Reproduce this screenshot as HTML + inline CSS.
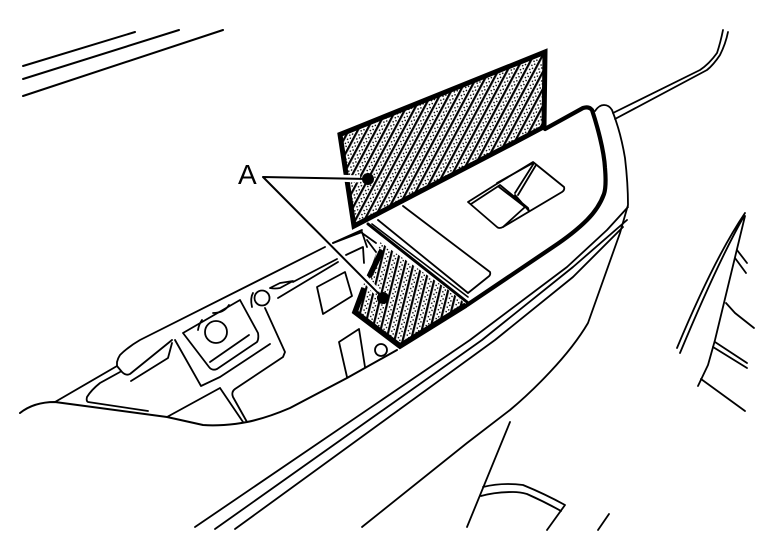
<!DOCTYPE html>
<html><head><meta charset="utf-8"><style>html,body{margin:0;padding:0;background:#fff;width:768px;height:544px;overflow:hidden}svg{display:block}</style></head>
<body>
<svg width="768" height="544" viewBox="0 0 768 544" xmlns="http://www.w3.org/2000/svg">
<defs>
<pattern id="h" width="8" height="4.6" patternUnits="userSpaceOnUse" patternTransform="rotate(28)">
<rect width="8" height="4.6" fill="#fff"/>
<rect x="0" width="2.2" height="4.6" fill="#000"/>
<rect x="3.6" y="0.5" width="1.4" height="1.4" fill="#000"/>
<rect x="5.6" y="2.8" width="1.4" height="1.4" fill="#000"/>
</pattern>
<pattern id="h2" width="8" height="4.6" patternUnits="userSpaceOnUse" patternTransform="rotate(14)">
<rect width="8" height="4.6" fill="#fff"/>
<rect x="0" width="2.2" height="4.6" fill="#000"/>
<rect x="3.6" y="0.5" width="1.4" height="1.4" fill="#000"/>
<rect x="5.6" y="2.8" width="1.4" height="1.4" fill="#000"/>
</pattern>
</defs>
<rect width="768" height="544" fill="#fff"/>
<g fill="none" stroke="#000" stroke-width="1.8" stroke-linejoin="round" stroke-linecap="round">
<!-- upper left -->
<path d="M23 66L135 32M23 79L179 30M23 96L223 30" stroke-width="2"/>
<!-- cable -->
<path d="M723 30C721 40 719 47 717 53C712 60 706 66 700 70L613 113M728 32C726 42 723 49 720 55C716 61 712 66 707 70L615 119"/>
<!-- hatch panels -->
<path d="M340 134.500L545 52L544 127L354 226Z" fill="url(#h)" stroke-width="5" stroke-linejoin="miter"/>
<path d="M380 242L467 303L400 348L353 313L363 285L368 276Z" fill="url(#h2)" stroke="none"/>
<path d="M382 250L369 277M364 288L355 312L400 346L466 305" stroke-width="5.500" stroke-linecap="butt" stroke-linejoin="miter"/>
<!-- switch panel -->
<path d="M403 205L543 130L583 108Q589 106 592 110C597 125 604 150 605 168C606 180 606 188 604 194C600 205 594 213 587 220C577 230 565 239 553 247L467 305L368 224Z" fill="#fff" stroke="none"/>
<path d="M545 129L583 108Q589 106 592 110C597 125 604 150 605 168C606 180 606 188 604 194C600 205 594 213 587 220C577 230 565 239 553 247L467 305" stroke-width="4.200"/>
<path d="M368 224L467 302" stroke-width="3"/>
<path d="M372 224L468 297" stroke-width="1.600"/>
<path d="M378 220L468 293M403 206L490 272Q491 275 488 277L468 293"/>
<!-- window switch -->
<path d="M468 202L495 185L533 162L564 187Q565 190 562 192L503 227Q499 229 497 227Z"/>
<path d="M471 204L497 187L500 185L528 208L529 211M497 183L533 163M499 187L525 207L503 227M515 193L534 163M518 195L536 165M515 195L529 211"/>
<!-- trim -->
<path d="M595 111Q599 105 604 105Q609 105 612 110C618 125 622 140 625 158C627 175 628 190 628 205L620 233L588 323C578 340 566 355 550 372C535 388 522 400 510 410L467 443L362 527"/>
<path d="M628 207L607 230L567 267L470 340L195 527M627 220L573 267L482 340L215 529M623 227L573 277L495 340L235 529"/>
<!-- console -->
<path d="M20 413C30 405 42 402 55 402L167 417L203 425C215 426 232 425 247 422C262 419 276 414 290 408L347 378L397 350" stroke-width="2"/>
<path d="M55 402L117 366M117 366L117 362Q118 358 120 355Q128 347 140 340L325 247M333 243L362 230"/>
<path d="M117 366L122 372Q126 376 130 374L172 340M120 372L100 383C95 387 90 392 87 397Q86 401 88 402L148 411M131 381L168 358L172 343"/>
<path d="M175 340L201 386L220 377L270 344"/>
<path d="M183 333L209 367Q212 371 217 369L257 342Q259 339 258 333L240 300L183 333"/>
<path d="M210 362L249 335M198 330Q199 324 202 320M213 313Q224 313 229 305"/>
<circle cx="216" cy="332" r="11"/>
<circle cx="262" cy="298" r="7.500"/>
<path d="M252 307Q250 298 253 293"/>
<path d="M265 308L285 352L283 357L235 389Q231 392 233 397L247 422M220 388L243 422M220 388L167 417"/>
<path d="M270 288L280 283L293 281L280 288Q275 289 270 288M293 282L337 259M278 298L338 262"/>
<path d="M317 287L323 314L352 296L345 272Z"/>
<path d="M347 377L339 342L359 329L365 367"/>
<circle cx="381" cy="350" r="6"/>
<path d="M333 243L362 232L367 247M346 255L363 247L364 263M362 233L376 243M367 240L376 252"/>
<!-- right side -->
<path d="M745 213C720 250 697 300 677 348M744 216C722 255 700 305 680 353M745 216L715 340L708 365L698 386"/>
<path d="M737 250L747 263M735 258L746 273M726 303L735 313L754 328M715 342L747 363M713 347L747 368M701 379L745 411"/>
<!-- bottom -->
<path d="M510 422L467 527M483 487Q495 484 508 484Q516 484 523 485Q545 494 565 505M481 496Q495 492 513 492Q520 492 527 494Q545 502 561 511M565 505L547 530M609 514L598 530"/>
<!-- leaders -->
<path d="M335 178L360 179" stroke="#fff" stroke-width="7" stroke-linecap="butt"/>
<path d="M348 260L377 292" stroke="#fff" stroke-width="7" stroke-linecap="butt"/>
<path d="M263 177L368 179M263 177L383 298" stroke-width="2"/>
</g>
<circle cx="368" cy="179" r="6" fill="#000"/>
<circle cx="383" cy="298" r="6" fill="#000"/>
<text x="238" y="184" font-family="'Liberation Sans',sans-serif" font-size="28" fill="#000">A</text>
</svg>
</body></html>
